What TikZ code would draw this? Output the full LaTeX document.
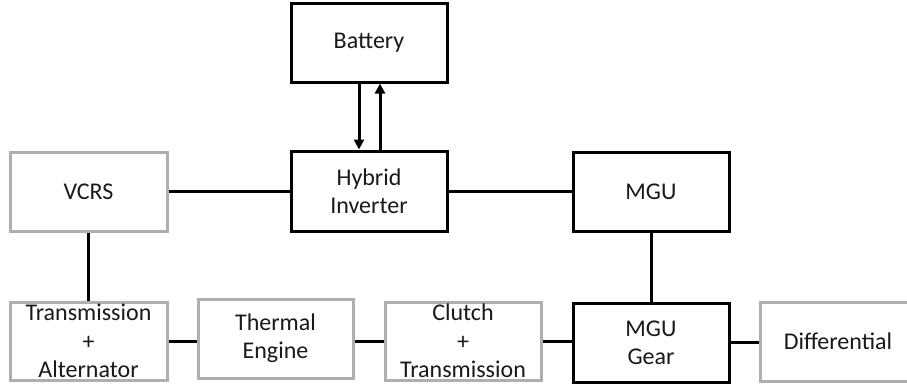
\documentclass[tikz,border=0pt]{standalone}
\usepackage{fontspec}
\setmainfont{Carlito}
\usetikzlibrary{arrows.meta,calc}
\definecolor{boxgray}{RGB}{175,175,175}
\definecolor{txt}{RGB}{25,25,25}
\tikzset{
  blk/.style={draw=black,line width=3pt,fill=white,minimum width=#1,minimum height=79pt,inner sep=0pt,align=center,text=txt,font=\fontsize{24}{28.3}\selectfont},
  blk/.default=156pt,
  gry/.style={blk=#1,draw=boxgray},
  gry/.default=156pt,
  conn/.style={line width=3pt,draw=black},
  arr/.style={line width=3pt,draw=black,-{Triangle[width=10pt,length=10pt]}}
}
\begin{document}
\begin{tikzpicture}[x=1pt,y=-1pt]
\useasboundingbox (0,0) rectangle (907,391);
\node[blk] (bat) at (369,42.5) {Battery};
\node[blk,minimum height=80pt] (inv) at (369,191) {Hybrid\\Inverter};
\node[gry=157pt] (vcrs) at (88.5,191.5) {VCRS};
\node[blk] (mgu) at (651,191.5) {MGU};
\node[gry=157pt,minimum height=78pt] (ta) at (88.5,341) {Transmission\\+\\Alternator};
\node[gry=155pt] (th) at (275.5,338.5) {Thermal\\Engine};
\node[gry,minimum height=78pt] (cl) at (463,341) {Clutch\\+\\Transmission};
\node[blk] (mg) at (651,342.5) {MGU\\Gear};
\node[gry] (dif) at (838,341.5) {Differential};
\draw[arr] ($(bat.south)+(-10,0)$) -- ($(inv.north)+(-10,0)$);
\draw[arr] ($(inv.north)+(11,0)$) -- ($(bat.south)+(11,0)$);
\draw[conn] (vcrs.east) -- (vcrs.east -| inv.west);
\draw[conn] (inv.east) -- (inv.east -| mgu.west);
\draw[conn] (vcrs.south) -- (vcrs.south |- ta.north);
\draw[conn] (mgu.south) -- (mgu.south |- mg.north);
\draw[conn] (ta.east) -- (ta.east -| th.west);
\draw[conn] (th.east |- cl.west) -- (cl.west);
\draw[conn] (cl.east) -- (cl.east -| mg.west);
\draw[conn] (mg.east) -- (mg.east -| dif.west);
\end{tikzpicture}
\end{document}
